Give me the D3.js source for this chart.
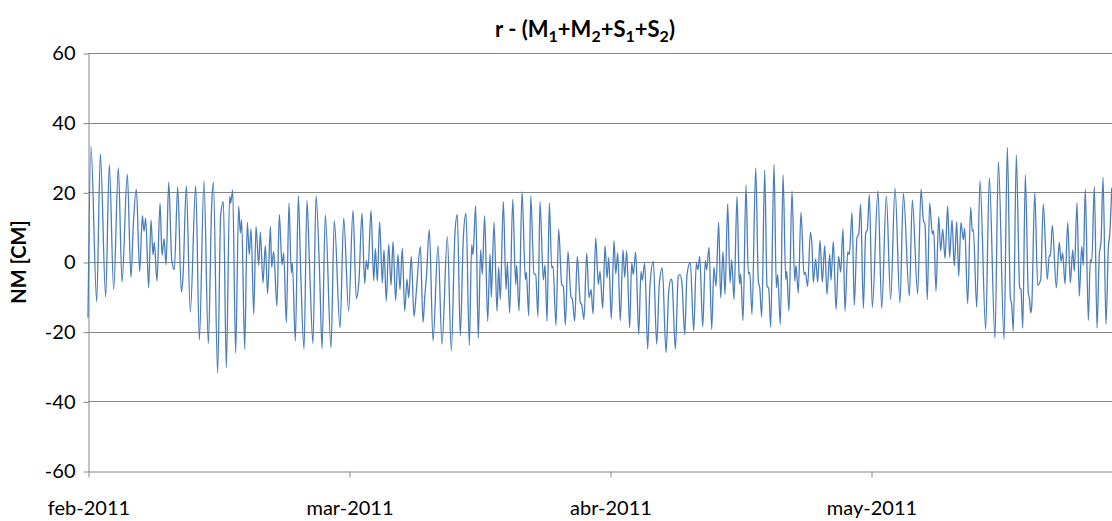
<!DOCTYPE html>
<html>
<head>
<meta charset="utf-8">
<script src="https://cdn.jsdelivr.net/npm/d3@7"></script>
<style>
  html, body { margin: 0; padding: 0; background: #ffffff; }
  svg { display: block; font-family: Lato, "Open Sans", sans-serif; }
</style>
</head>
<body>
<svg id="chart" width="1112" height="521"></svg>
<script>
// ---- data (time in days from 1 Feb 2011, value in cm) ----
const days = [
  0, 0.34, 1.0, 1.42, 2.03, 2.45, 2.95, 3.49, 3.91, 4.52, 4.94, 5.21, 5.56, 5.94, 6.25, 6.44, 6.63, 6.97, 7.24, 7.47, 7.62, 7.93, 8.28, 8.51, 8.74, 8.97, 9.28, 9.62,
  9.92, 10.31, 10.73, 10.92, 11.3, 11.76, 12.38, 12.8, 13.33, 13.83, 14.22, 14.41, 14.9, 15.25, 15.56, 15.9, 16.28, 16.4, 16.63, 16.97, 17.32, 17.51, 17.66, 18.01, 18.31, 18.54, 18.74, 19.05, 19.31, 19.62,
  19.81, 20.11, 20.38, 20.65, 20.96, 21.11, 21.34, 21.72, 21.99, 22.3, 22.49, 22.8, 23.1, 23.37, 23.49, 23.83, 24.18, 24.44, 24.83, 25.17, 25.44, 25.86, 26.21, 26.63, 26.9, 27.28, 27.93, 28.31, 28.97, 29.39,
  29.96, 30.46, 30.84, 31.15, 31.49, 31.8, 31.99, 32.18, 32.53, 32.84, 33.03, 33.26, 33.52, 33.83, 34.02, 34.29, 34.56, 34.83, 35.06, 35.36, 35.63, 35.86, 36.13, 36.4, 36.67, 36.86, 37.16, 37.47, 37.74, 38.2, 38.51, 38.7, 38.89,
  39.23, 39.66, 40.23, 40.69, 41.3, 41.76, 42.18, 42.45, 42.79, 43.14, 43.45, 43.83, 44.1, 44.25, 44.56, 44.86, 45.13, 45.32, 45.59, 45.94, 46.21, 46.36, 46.67, 47.01, 47.2, 47.39, 47.74, 48.05, 48.2, 48.47, 48.82, 49.16,
  49.27, 49.54, 49.89, 50.27, 50.38, 50.66, 50.89, 51.26, 51.46, 51.72, 51.95, 52.34, 52.53, 52.76, 53.03, 53.3, 53.45, 53.79, 54.1, 54.45, 54.64, 54.87, 55.17, 55.52, 55.67, 55.94, 56.24, 56.59, 56.74, 57.01, 57.32, 57.59, 57.82, 58.05, 58.36, 58.66, 58.85,
  59.16, 59.43, 59.66, 59.85, 60.15, 60.46, 60.66, 60.89, 61.18, 61.49, 61.69, 61.92, 62.26, 62.49, 62.68, 62.95, 63.3, 63.56, 63.71, 63.99, 64.33, 64.6, 64.98, 65.37, 65.67, 66.01, 66.44, 66.75, 67.01, 67.13, 67.51, 67.85, 68.05, 68.28, 68.59, 68.85,
  69.23, 69.62, 69.92, 70.11, 70.31, 70.66, 70.95, 71.11, 71.38, 71.69, 71.95, 72.18, 72.49, 72.72, 72.99, 73.22, 73.53, 73.79, 73.99, 74.25, 74.6, 74.83, 74.91, 75.02, 75.29, 75.63, 75.9, 76.06, 76.32, 76.75, 77.05, 77.21, 77.44, 77.78, 78.05, 78.24, 78.47, 78.85,
  79.12, 79.27, 79.58, 79.89, 80.2, 80.31, 80.57, 80.92, 81.23, 81.38, 81.64, 81.95, 82.3, 82.45, 82.72, 83.03, 83.22, 83.37, 83.64, 83.87, 84.14, 84.4, 84.68, 84.94, 85.25, 85.4, 85.67, 85.98, 86.28, 86.51, 86.78, 87.01, 87.32, 87.51, 87.82, 88.08, 88.39, 88.59,
  88.81, 89.12, 89.39, 89.58, 89.81, 90.15, 90.8, 91.23, 91.76, 92.26, 92.76, 93.33, 93.72, 94.41, 94.75, 95.36, 95.75, 96.01, 96.21, 96.47, 96.74, 97.05, 97.21, 97.47, 97.78, 98.01, 98.24, 98.51,
  98.81, 99.04, 99.31, 99.57, 99.85, 100.08, 100.34, 100.61, 100.77, 101.11, 101.46, 101.64, 101.76, 102.15, 102.53, 103.18, 103.6, 104.25, 104.64, 105.29, 105.67, 106.02, 106.17, 106.36, 106.7, 107.09, 107.24, 107.44, 107.74, 108.08, 108.2,
  108.36, 108.47, 108.82, 109.16, 109.51, 109.8, 110.26, 110.49, 110.61, 110.84, 111.3, 111.64, 111.84, 112.03, 112.3, 112.61, 112.91, 113.18, 113.37, 113.68, 113.94, 114.22, 114.4, 114.63, 114.98, 115.21, 115.37, 115.67, 115.98, 116.24, 116.44, 116.67, 117.01, 117.28, 117.44, 117.67
];
const residual = [
  -16, 33.2, -11.4, 31, -10, 28, -7.9, 27.1, -5.7, 25.2, -4.4, 10.7, 20.9, -2.7, 13.3, 8.8, 12.6, -7.4, 12.1, 2.1, 5.7, -5.5, 16.9, 1.9, 6.7, -0.8, 23, 0.7,
  -2.2, 21.6, -8.6, -4.2, 21.9, -14.4, 21.9, -22.4, 23.3, -23.4, 16.4, 22.9, -31.9, 13.5, 17.3, -30.3, 18.8, 16.9, 20.7, -26, 16.1, 8.3, 12.1, -25, 11.4, 2.1, 9.5, -14.9, 10.2, -1,
  8.6, -6, 4.8, -9.1, 10.2, -1.5, 3, -12.7, 13.7, -0.8, 2.6, -17.4, 16.9, -3.1, -0.3, -22.7, 19, -2.2, -25, 17.6, 0.7, -23.4, 19, -4, -24.8, 13.5, -24.6, 11.9, -18.9, 12.6,
  -14.1, 14.8, -10.5, -5, 14, -6.2, 0.4, -2.2, 14.8, -5.3, 3.8, -5.5, 11.6, -6, 3.5, -11.2, 5.1, -6.7, 5.9, -11, 2.1, -7.9, 4, -14.1, -4.9, -10.3, 1.6, -15.7, -8.4, 4.5, -17.4, -10.3, -4.6,
  9.3, -22.7, 4.7, -23.6, 7.3, -25.5, 8.5, 13.7, -21.2, 6.9, 14, -23.9, 5, 2.1, 16.2, -21.9, 3.5, -3.6, 13.3, -17, 2.3, -10.1, 11.4, -14.1, -1.5, -10.8, 17.3, -7.9, -0.3, -14.6, 18, -6.5,
  -1, -14.1, 20.2, -5, -2.9, -15.5, 19, -3.4, -3.6, -15.7, 17.3, -5.2, -0.8, -17, 16.9, -1.7, -1.2, -18.2, 9.4, -6.5, -7, -18.1, 3, -10.1, -10.6, -17, 1.6, -11.7, -12.2, -16.5, 2.6, -10.3, -7.9, -14.9, 6.9, -6.5, -2.7,
  -13.3, 4.7, -4.6, 1.3, -16.3, 6.1, -3.4, 2.6, -16.8, 3.5, -4.4, 3.2, -18.9, -0.3, -3.6, 2.9, -20.8, -2.7, -5.3, -0.3, -25, -6.5, 0.2, -23.6, -6.3, -1.7, -26, -8.4, -4.9, -5.5, -25, -4.1, -3.6, -6.5, -20.8, -3.6,
  -0.1, -19.8, -0.3, -2.2, 1.6, -18.6, 0.4, -2.2, 4.2, -19.3, -1.5, -7, 11.4, -10.3, 3, -9.3, 16.7, -6, 0.7, -10.8, 18.8, -3.6, -6.3, -3.4, -16.8, 22.1, -3.4, -2.9, -15, 27, -5.5, -7.4, -15.8, 26.4, -7, -7.5, -18.7, 28,
  -7.4, -3.6, -17.9, 25, -5, -2.7, -14.1, 20.4, -5.5, -1, -8.9, 14.3, -3.6, -3, -7, 8.6, 4.5, -5.8, 0.9, -5.8, 6.2, -5.8, 4.7, -9.3, 2.3, -5.2, 5.9, -13.6, 1.6, -2.9, 9.5, -14.1, 2.9, 2.1, 14.2, -12.4, 7, 8,
  16.6, -13.3, 8.3, 9.2, 19.4, -13.1, 20.5, -13.3, 19, -10.8, 21.3, -11.7, 19.7, -9.8, 17.8, -9.1, 20.9, 12.1, 10.6, -10.8, 16.9, 8, 9, -8.4, 13, 3.2, 9.4, 1,
  16.1, 1.3, 12.1, -1.2, 11.6, -4.1, 11.4, 6.4, 9.7, -12, 15.7, 8.8, 9.3, -13, 23.3, -19.3, 24.2, -21.9, 28.8, -22.2, 32.9, -10.3, -12.2, -19.8, 30.7, -7.4, -7.9, -19, 25, -8.9, -10.3,
  -14.6, -13, 20, -6.7, -5, 16.7, -5, 1.9, 1.6, 10.5, -7.4, 5.7, 0.2, 2.6, -6.3, 11.4, -6, 3.5, -2.7, 17, -9.8, 4.5, -1, 20.9, -16.8, 0.7, 0.2, 21.6, -19, 2.1, 5.9, 24.3, -17.9, 4, 7.8, 21.3
];
const xTickDays = [0, 30, 60, 90];
const xTickLabels = ["feb-2011", "mar-2011", "abr-2011", "may-2011"];
const yTickValues = [-60, -40, -20, 0, 20, 40, 60];
const titleParts = [["r - (M", false], ["1", true], ["+M", false], ["2", true], ["+S", false], ["1", true], ["+S", false], ["2", true], [")", false]];
const yTitle = "NM [CM]";

// ---- drawing ----
(function () {
const svg = d3.select("#chart");
const pLeft = 88, pRight = 1112, pTop = 53, pBottom = 471;
const x = d3.scaleLinear().domain([0, 117.7]).range([pLeft, pRight]);
const y = d3.scaleLinear().domain([-60, 60]).range([pBottom, pTop]);
const gridColor = "#868686";
const fontFam = 'Lato, "Open Sans", sans-serif';

// gridlines
svg.append("g").selectAll("line")
  .data(yTickValues.filter(v => v !== -60))
  .join("line")
  .attr("x1", pLeft).attr("x2", pRight)
  .attr("y1", d => Math.round(y(d)) + 0.5).attr("y2", d => Math.round(y(d)) + 0.5)
  .attr("stroke", gridColor).attr("stroke-width", 1);

// y axis
const yAxis = svg.append("g")
  .attr("transform", `translate(${pLeft + 0.5},0.5)`)
  .call(d3.axisLeft(y).tickValues(yTickValues).tickSize(5).tickSizeOuter(0).tickPadding(8).tickFormat(d => String(d)));
yAxis.select(".domain").attr("stroke", gridColor);
yAxis.selectAll(".tick line").attr("stroke", gridColor);
yAxis.selectAll("text").attr("font-size", 20).attr("font-family", fontFam).attr("fill", "#000");

// x axis
const xAxis = svg.append("g")
  .attr("transform", `translate(0.5,${Math.round(pBottom) + 0.5})`)
  .call(d3.axisBottom(x).tickValues(xTickDays).tickSize(6).tickSizeOuter(0).tickPadding(23)
        .tickFormat((d, i) => xTickLabels[i]));
xAxis.select(".domain").attr("stroke", gridColor);
xAxis.selectAll(".tick line").attr("stroke", gridColor);
xAxis.selectAll("text").attr("font-size", 20).attr("font-family", fontFam).attr("fill", "#000");

// series line
const pts = days.map((d, i) => [d, residual[i]]);
svg.append("path")
  .datum(pts)
  .attr("fill", "none")
  .attr("stroke", "#4a7ebb")
  .attr("stroke-width", 1.3)
  .attr("stroke-linejoin", "round")
  .attr("d", d3.line().x(d => x(d[0])).y(d => y(d[1])).curve(d3.curveMonotoneX));

// title
const title = svg.append("text")
  .attr("x", 585).attr("y", 37)
  .attr("text-anchor", "middle")
  .attr("font-family", fontFam)
  .attr("font-weight", "bold")
  .attr("font-size", 22);
let prevSub = false;
titleParts.forEach(([t, sub]) => {
  const ts = title.append("tspan").text(t);
  if (sub && !prevSub) ts.attr("dy", 5).attr("font-size", 16);
  else if (!sub && prevSub) ts.attr("dy", -5);
  else if (sub) ts.attr("font-size", 16);
  prevSub = sub;
});

// y title
svg.append("text")
  .attr("transform", `translate(26,${(pTop + pBottom) / 2}) rotate(-90)`)
  .attr("text-anchor", "middle")
  .attr("font-family", fontFam)
  .attr("font-weight", "bold")
  .attr("font-size", 20)
  .text(yTitle);
})();
</script>
</body>
</html>
